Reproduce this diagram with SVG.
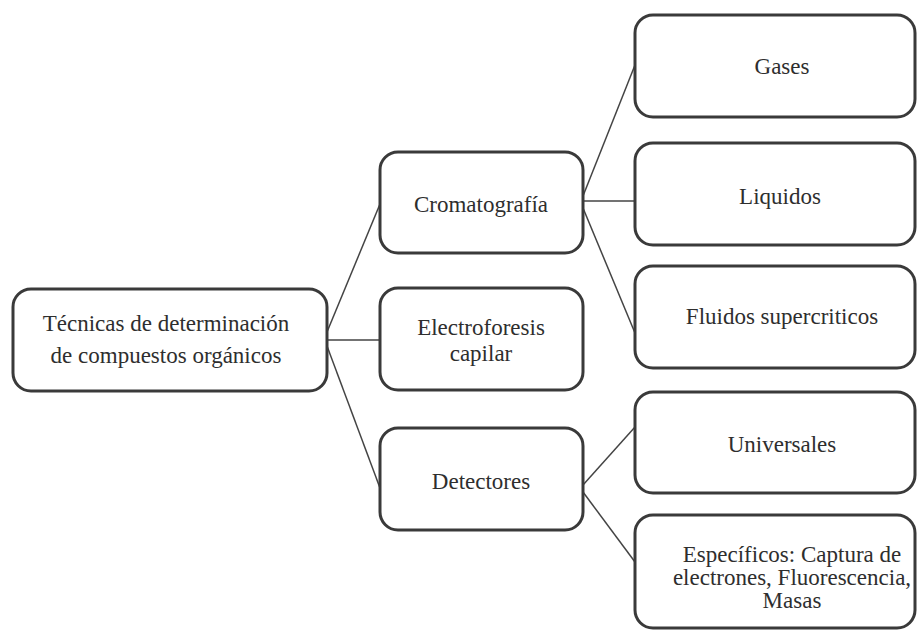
<svg xmlns="http://www.w3.org/2000/svg" width="917" height="632" viewBox="0 0 917 632">
<style>
.box{fill:#fff;stroke:#3a3a3a;stroke-width:3}
.t{font-family:"Liberation Serif","Times New Roman",serif;font-size:23px;fill:#2e2e2e;text-anchor:middle}
.c{stroke:#444;stroke-width:1.5;fill:none}
</style>
<rect width="917" height="632" fill="#fff"/>
<g id="connectors">
<line class="c" x1="327" y1="332" x2="380" y2="204"/>
<line class="c" x1="327" y1="340" x2="380" y2="340"/>
<line class="c" x1="327" y1="346" x2="380" y2="488"/>
<line class="c" x1="583" y1="196" x2="635" y2="65"/>
<line class="c" x1="583" y1="201" x2="635" y2="201"/>
<line class="c" x1="583" y1="208" x2="635" y2="333"/>
<line class="c" x1="583" y1="485" x2="635" y2="427"/>
<line class="c" x1="583" y1="492" x2="635" y2="562"/>
</g>
<g id="root">
<rect class="box" x="13" y="289" width="314" height="102" rx="18"/>
<text class="t" x="166" y="331">Técnicas de determinación</text>
<text class="t" x="166" y="363">de compuestos orgánicos</text>
</g>
<g id="cromatografia">
<rect class="box" x="380" y="152" width="203" height="101" rx="18"/>
<text class="t" x="481" y="212">Cromatografía</text>
</g>
<g id="electroforesis">
<rect class="box" x="380" y="288" width="203" height="102" rx="18"/>
<text class="t" x="481" y="335">Electroforesis</text>
<text class="t" x="481" y="361">capilar</text>
</g>
<g id="detectores">
<rect class="box" x="380" y="428" width="203" height="102" rx="18"/>
<text class="t" x="481" y="489">Detectores</text>
</g>
<g id="gases">
<rect class="box" x="635" y="15" width="280" height="102" rx="18"/>
<text class="t" x="782" y="74">Gases</text>
</g>
<g id="liquidos">
<rect class="box" x="635" y="143" width="280" height="102" rx="18"/>
<text class="t" x="780" y="204">Liquidos</text>
</g>
<g id="fluidos">
<rect class="box" x="635" y="266" width="280" height="102" rx="18"/>
<text class="t" x="782" y="324">Fluidos supercriticos</text>
</g>
<g id="universales">
<rect class="box" x="635" y="392" width="280" height="101" rx="18"/>
<text class="t" x="782" y="452">Universales</text>
</g>
<g id="especificos">
<rect class="box" x="635" y="515" width="280" height="113" rx="18"/>
<text class="t" x="792" y="562">Específicos: Captura de</text>
<text class="t" x="792" y="585">electrones, Fluorescencia,</text>
<text class="t" x="792" y="608">Masas</text>
</g>
</svg>
